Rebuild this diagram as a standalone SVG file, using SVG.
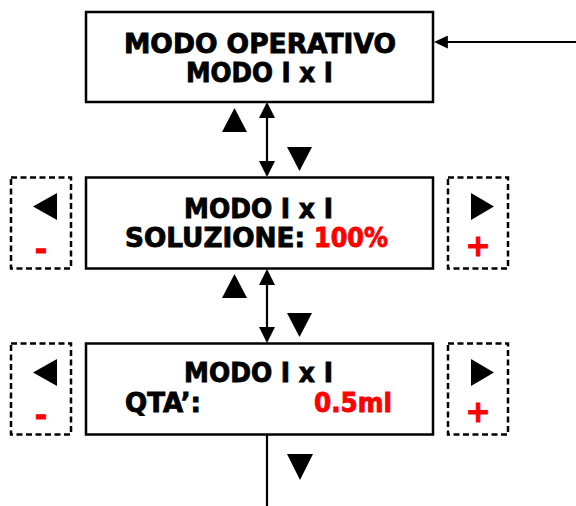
<svg xmlns="http://www.w3.org/2000/svg" width="576" height="506" viewBox="0 0 576 506">
<style>
.box{fill:#fff;stroke:#000;stroke-width:2.5}
.dash{fill:none;stroke:#000;stroke-width:2.5;stroke-dasharray:6 3.5}
.t{font-family:"DejaVu Sans","Liberation Sans",sans-serif;font-weight:bold;font-size:27px;fill:#000;stroke:#000;stroke-width:0.9}
.r{fill:#f00;stroke:#f00}
.sym{font-family:"DejaVu Sans","Liberation Sans",sans-serif;font-weight:bold;font-size:30px;fill:#f00;stroke:#f00;stroke-width:1;text-anchor:middle}
.line{stroke:#000;stroke-width:2.2;fill:none}
.tri{fill:#000}
</style>
<defs>
<marker id="ah" viewBox="0 0 16 16" refX="14" refY="8" markerUnits="userSpaceOnUse" markerWidth="17" markerHeight="16" orient="auto-start-reverse">
<path d="M0,0 L16,8 L0,16 z" fill="#000"/>
</marker>
<marker id="ah2" viewBox="0 0 13 12" refX="11" refY="6" markerUnits="userSpaceOnUse" markerWidth="14" markerHeight="13" orient="auto">
<path d="M0,0 L13,6 L0,12 z" fill="#000"/>
</marker>
</defs>

<g id="connectors">
<line class="line" x1="576" y1="42" x2="436" y2="42" marker-end="url(#ah2)"/>
<line class="line" x1="267" y1="104" x2="267" y2="175" marker-start="url(#ah)" marker-end="url(#ah)"/>
<line class="line" x1="267" y1="271" x2="267" y2="341" marker-start="url(#ah)" marker-end="url(#ah)"/>
<line class="line" x1="267" y1="434" x2="267" y2="506"/>
<polygon class="tri" points="222,132 247,132 234.5,108"/>
<polygon class="tri" points="287,147 312,147 299.5,171"/>
<polygon class="tri" points="222,298 247,298 234.5,274"/>
<polygon class="tri" points="287,313 312,313 299.5,337"/>
<polygon class="tri" points="287,454 313,454 300,480"/>
</g>

<g id="node-modo-operativo">
<rect class="box" x="86" y="12" width="347" height="90"/>
<text class="t" x="124" y="52.7" textLength="272" lengthAdjust="spacingAndGlyphs">MODO OPERATIVO</text>
<text class="t" x="186" y="82.3" textLength="147" lengthAdjust="spacingAndGlyphs">MODO I x I</text>
</g>

<g id="node-soluzione">
<rect class="box" x="86" y="177.5" width="347" height="91"/>
<text class="t" x="184" y="217.7" textLength="149" lengthAdjust="spacingAndGlyphs">MODO I x I</text>
<text class="t" x="125" y="247.3" textLength="180" lengthAdjust="spacingAndGlyphs">SOLUZIONE:</text>
<text class="t r" x="314" y="247.3" textLength="74" lengthAdjust="spacingAndGlyphs">100%</text>
</g>

<g id="node-soluzione-minus">
<rect class="dash" x="11" y="177.5" width="60" height="91"/>
<polygon class="tri" points="57,193 57,220 33,206.5"/>
<text class="sym" x="41" y="259.5">-</text>
</g>

<g id="node-soluzione-plus">
<rect class="dash" x="448" y="177.5" width="60" height="91"/>
<polygon class="tri" points="471,193 471,220 494,206.5"/>
<text class="sym" x="478" y="256">+</text>
</g>

<g id="node-qta">
<rect class="box" x="86" y="343.5" width="347" height="91"/>
<text class="t" x="184" y="381.7" textLength="149" lengthAdjust="spacingAndGlyphs">MODO I x I</text>
<text class="t" x="125" y="411.7" textLength="76" lengthAdjust="spacingAndGlyphs">QTA’:</text>
<text class="t r" x="314" y="411.7" textLength="78" lengthAdjust="spacingAndGlyphs">0.5ml</text>
</g>

<g id="node-qta-minus">
<rect class="dash" x="11" y="343.5" width="60" height="91"/>
<polygon class="tri" points="57,359 57,386 33,372.5"/>
<text class="sym" x="41" y="425.5">-</text>
</g>

<g id="node-qta-plus">
<rect class="dash" x="448" y="343.5" width="60" height="91"/>
<polygon class="tri" points="471,359 471,386 494,372.5"/>
<text class="sym" x="478" y="422">+</text>
</g>
</svg>
